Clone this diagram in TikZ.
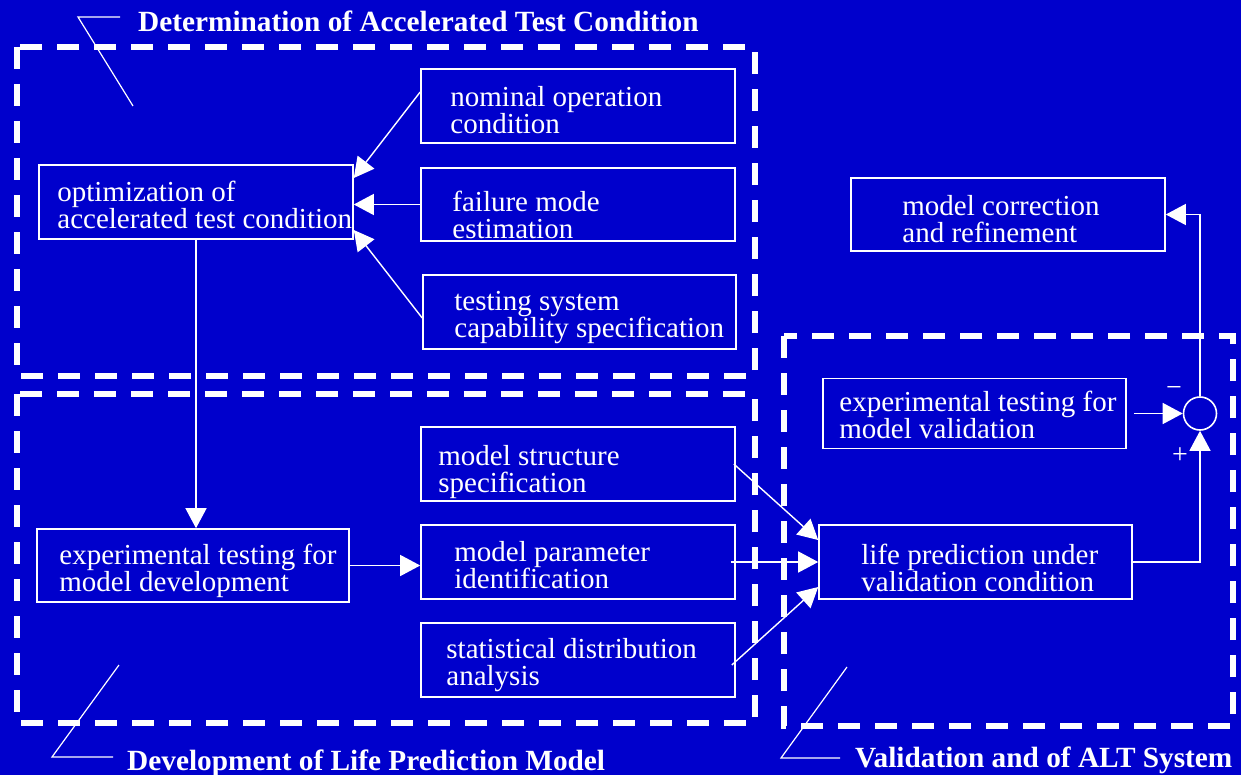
\documentclass[tikz,border=0pt]{standalone}
\usepackage{fontspec}
\setmainfont{Liberation Serif}
\usetikzlibrary{arrows.meta}
\definecolor{bgblue}{RGB}{0,0,204}
\begin{document}
\begin{tikzpicture}[x=1pt,y=-1pt,
  solidbox/.style args={#1x#2}{draw=white, line width=1.6pt, minimum width=#1pt, minimum height=#2pt, inner sep=0pt},
  boxtext/.style={anchor=north west, inner sep=0pt, align=left, text=white, font=\fontsize{29}{27}\selectfont},
  region/.style={draw=white, line width=5.5pt, dash pattern=on 22pt off 15pt},
  conn/.style={draw=white, line width=1.4pt},
  arr/.style={conn, -{Triangle[length=20pt,width=21pt]}},
  leader/.style={draw=white, line width=1.2pt},
  title/.style={anchor=base west, inner sep=0pt, text=white, font=\fontsize{29.3}{30}\selectfont\bfseries},
  sign/.style={text=white, inner sep=0pt, font=\fontsize{28}{28}\selectfont}
]
\fill[bgblue] (0,0) rectangle (1241,775);
\useasboundingbox (0,0) rectangle (1241,775);

% dashed regions
\draw[region] (17,47) rectangle (755,376);
\draw[region] (17,394) rectangle (755,723);
\draw[region] (784,336) rectangle (1233,726);

% boxes
\node[solidbox=314x74] (opt) at (196,202) {};
\node[solidbox=314x74] (nom) at (578,106) {};
\node[solidbox=314x73] (fail) at (578,204.5) {};
\node[solidbox=313x74] (tsys) at (579.5,312) {};
\node[solidbox=312x73] (expdev) at (193,565.5) {};
\node[solidbox=314x74] (struct) at (578,464) {};
\node[solidbox=314x74] (param) at (578,562) {};
\node[solidbox=314x74] (stat) at (578,660) {};
\node[solidbox=313x74] (life) at (975.5,562) {};
\node[solidbox=303x70] (expval) at (974.5,413.5) {};
\node[solidbox=314x73] (corr) at (1008,214.5) {};
\node[draw=white, line width=1.6pt, circle, minimum size=33pt, inner sep=0pt] (sum) at (1200,413.5) {};

% box texts
\node[boxtext] (optt) at ([xshift=19pt, yshift=20.8pt]opt.west) {optimization of\\accelerated test condition};
\node[boxtext] (nomt) at ([xshift=30pt, yshift=19.8pt]nom.west) {nominal operation\\condition};
\node[boxtext] (failt) at ([xshift=32pt, yshift=13.8pt]fail.west) {failure mode\\estimation};
\node[boxtext] (tsyst) at ([xshift=32pt, yshift=20.8pt]tsys.west) {testing system\\capability specification};
\node[boxtext] (expdevt) at ([xshift=23pt, yshift=21.8pt]expdev.west) {experimental testing for\\model development};
\node[boxtext] (structt) at ([xshift=18pt, yshift=18.8pt]struct.west) {model structure\\specification};
\node[boxtext] (paramt) at ([xshift=34pt, yshift=20.8pt]param.west) {model parameter\\identification};
\node[boxtext] (statt) at ([xshift=26pt, yshift=21.8pt]stat.west) {statistical distribution\\analysis};
\node[boxtext] (lifet) at ([xshift=43pt, yshift=17.8pt]life.west) {life prediction under\\validation condition};
\node[boxtext] (expvalt) at ([xshift=17pt, yshift=22.8pt]expval.west) {experimental testing for\\model validation};
\node[boxtext] (corrt) at ([xshift=52pt, yshift=19.8pt]corr.west) {model correction\\and refinement};

% connectors
\draw[arr] ([yshift=14pt]nom.west) -- ([yshift=24pt]opt.east);
\draw[arr] (fail.west) -- (fail.west -| opt.east);
\draw[arr] ([yshift=-6pt]tsys.west) -- ([yshift=-28pt]opt.east);
\draw[arr] (opt.south) -- (opt.south |- expdev.north);
\draw[arr] (expdev.east) -- (expdev.east -| param.west);
\draw[arr] ([xshift=-2pt]struct.east) -- ([yshift=22pt]life.west);
\draw[arr] ([xshift=-5pt]param.east) -- (life.west);
\draw[arr] ([xshift=-4pt,yshift=-5pt]stat.east) -- ([yshift=-25pt]life.west);
\draw[arr] ([xshift=7pt]expval.east) -- (sum.west);
\draw[arr] (life.east) -- (life.east -| sum.south) -- (sum.south);
\draw[arr] (sum.north) -- (sum.north |- corr.east) -- (corr.east);

% signs
\node[sign] (minus) at (1174,392) {−};
\node[sign] (plus) at (1180,456) {+};

% leaders and titles
\coordinate (l1a) at (133,106);
\coordinate (l1b) at (78,17);
\coordinate (l1c) at (120,17);
\draw[leader] (l1a) -- (l1b) -- (l1c);
\node[title] (t1) at (138,32) {Determination of Accelerated Test Condition};

\coordinate (l2a) at (119,665);
\coordinate (l2b) at (52,757);
\coordinate (l2c) at (113,757);
\draw[leader] (l2a) -- (l2b) -- (l2c);
\node[title] (t2) at (127,770) {Development of Life Prediction Model};

\coordinate (l3a) at (847,667);
\coordinate (l3b) at (781,758);
\coordinate (l3c) at (840,758);
\draw[leader] (l3a) -- (l3b) -- (l3c);
\node[title] (t3) at (855,767) {Validation and of ALT System};
\end{tikzpicture}
\end{document}
